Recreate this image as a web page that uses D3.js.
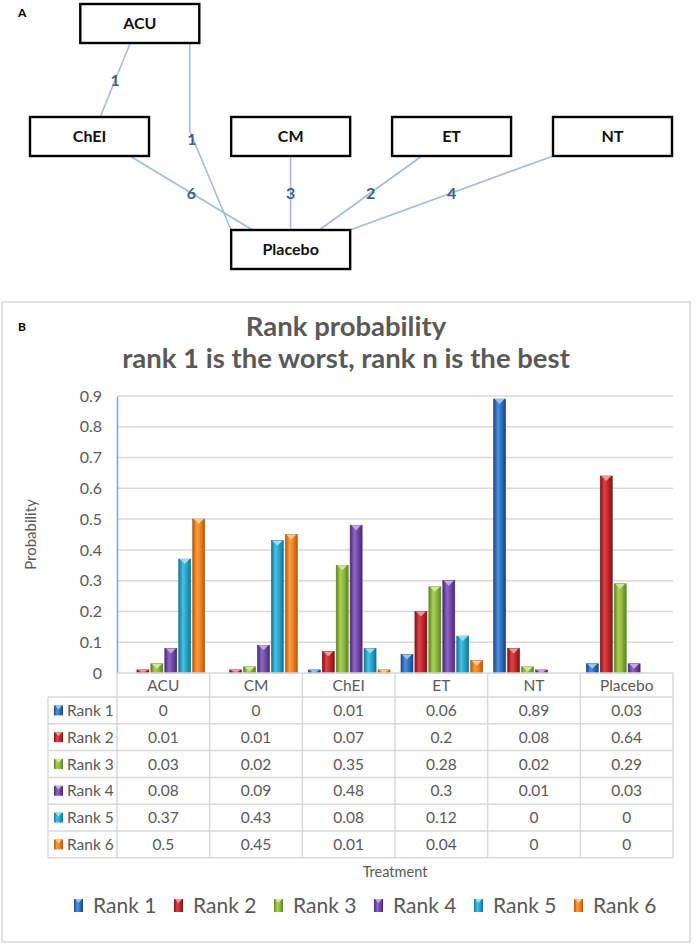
<!DOCTYPE html>
<html>
<head>
<meta charset="utf-8">
<script src="https://cdn.jsdelivr.net/npm/d3@7"></script>
<style>
  body { margin: 0; background: #fff; }
  text { font-family: Lato, "Open Sans", sans-serif; }
</style>
</head>
<body>
<svg id="fig" width="696" height="946"></svg>
<script>
// ---- data ----
const treatments = ["ACU", "CM", "ChEI", "ET", "NT", "Placebo"];
const rankNames = ["Rank 1", "Rank 2", "Rank 3", "Rank 4", "Rank 5", "Rank 6"];
const rank1 = [0, 0, 0.01, 0.06, 0.89, 0.03];
const rank2 = [0.01, 0.01, 0.07, 0.2, 0.08, 0.64];
const rank3 = [0.03, 0.02, 0.35, 0.28, 0.02, 0.29];
const rank4 = [0.08, 0.09, 0.48, 0.3, 0.01, 0.03];
const rank5 = [0.37, 0.43, 0.08, 0.12, 0, 0];
const rank6 = [0.5, 0.45, 0.01, 0.04, 0, 0];
const rankValues = [rank1, rank2, rank3, rank4, rank5, rank6];
const yTicks = [0, 0.1, 0.2, 0.3, 0.4, 0.5, 0.6, 0.7, 0.8, 0.9];

// network: nodes and comparisons (number of studies)
const nodes = ["ACU", "ChEI", "CM", "ET", "NT", "Placebo"];
const edges = [
  ["ACU", "ChEI", 1],
  ["ACU", "Placebo", 1],
  ["ChEI", "Placebo", 6],
  ["CM", "Placebo", 3],
  ["ET", "Placebo", 2],
  ["NT", "Placebo", 4]
];

// ---- styles / layout ----
const rankColors = [
  {base: "#2f6fbf", dark: "#1b4585", light: "#4d92de"},
  {base: "#c1282e", dark: "#801419", light: "#de4247"},
  {base: "#8db63c", dark: "#5c8620", light: "#abcf58"},
  {base: "#7348a8", dark: "#4a2877", light: "#9066c4"},
  {base: "#25a3c9", dark: "#117696", light: "#4cc0e2"},
  {base: "#f0801e", dark: "#b5570c", light: "#fb9d40"}
];
const gray = "#595959", grid = "#d9d9d9";

const svg = d3.select("#fig");
const defs = svg.append("defs");

rankColors.forEach(function(c, i) {
  let g = defs.append("linearGradient").attr("id", "grad" + i)
    .attr("x1", "0%").attr("x2", "100%").attr("y1", "0%").attr("y2", "0%");
  g.append("stop").attr("offset", "0%").attr("stop-color", c.dark);
  g.append("stop").attr("offset", "35%").attr("stop-color", c.light);
  g.append("stop").attr("offset", "65%").attr("stop-color", c.base);
  g.append("stop").attr("offset", "100%").attr("stop-color", c.dark);
});

// ================= Panel A: network =================
const boxW = 119, boxH = 39;
const nodeCol = {ACU: 0.25, ChEI: 0, CM: 1, ET: 1.8, NT: 2.6, Placebo: 1};
const nodeRow = {ACU: 0, ChEI: 1, CM: 1, ET: 1, NT: 1, Placebo: 2};
const colX = d3.scaleLinear().domain([0, 2.6]).range([30, 553]);
const rowY = d3.scaleLinear().domain([0, 2]).range([4, 230]);
// where each edge leaves the source (bottom) and enters the target (top), as box fractions
const anchors = {
  "ACU-ChEI": [0.42, 0.59],
  "ACU-Placebo": [0.92, 0],
  "ChEI-Placebo": [0.84, 0.18],
  "CM-Placebo": [0.5, 0.5],
  "ET-Placebo": [0.25, 0.74],
  "NT-Placebo": [0, 1]
};

const panelA = svg.append("g");
panelA.append("text").attr("x", 18).attr("y", 17)
  .style("font-size", "12px").style("font-weight", "bold").text("A");

const edgeG = panelA.selectAll(".edge").data(edges).enter().append("g").attr("class", "edge");
edgeG.each(function(e) {
  const a = anchors[e[0] + "-" + e[1]];
  const sx = colX(nodeCol[e[0]]) + a[0] * boxW, sy = rowY(nodeRow[e[0]]) + boxH;
  const tx = colX(nodeCol[e[1]]) + a[1] * boxW, ty = rowY(nodeRow[e[1]]);
  let pts, lx, ly;
  if (nodeRow[e[1]] - nodeRow[e[0]] > 1) {
    // long link is drawn as an elbow that passes between the middle-row boxes
    const by = rowY(1) + 14;
    pts = [[sx, sy], [sx, by], [tx, ty]];
    lx = sx + 2; ly = by + 8;
  } else {
    pts = [[sx, sy], [tx, ty]];
    lx = (sx + tx) / 2; ly = (sy + ty) / 2;
  }
  const g = d3.select(this);
  g.append("path").attr("d", d3.line()(pts))
    .attr("fill", "none").attr("stroke", "#a3bbdd").attr("stroke-width", 1.6);
  g.append("text").attr("x", lx).attr("y", ly).attr("dy", "0.36em")
    .attr("text-anchor", "middle")
    .style("font-size", "16px").style("font-weight", "bold").style("fill", "#3f5f86")
    .text(e[2]);
});

const nodeG = panelA.selectAll(".node").data(nodes).enter().append("g").attr("class", "node")
  .attr("transform", d => "translate(" + colX(nodeCol[d]) + "," + rowY(nodeRow[d]) + ")");
nodeG.append("rect").attr("width", boxW).attr("height", boxH)
  .attr("fill", "#fff").attr("stroke", "#000").attr("stroke-width", 2.4);
nodeG.append("text").attr("x", boxW / 2).attr("y", boxH / 2).attr("dy", "0.36em")
  .attr("text-anchor", "middle")
  .style("font-size", "16px").style("font-weight", "bold").style("fill", "#111")
  .text(d => d);

// ================= Panel B: rank probability =================
const panelB = svg.append("g");
panelB.append("rect").attr("x", 2).attr("y", 302).attr("width", 688).attr("height", 640)
  .attr("fill", "#fff").attr("stroke", grid).attr("stroke-width", 1.5);
panelB.append("text").attr("x", 18).attr("y", 331)
  .style("font-size", "12px").style("font-weight", "bold").text("B");

const title = panelB.append("text").attr("text-anchor", "middle")
  .style("font-size", "27.5px").style("font-weight", "bold").style("fill", gray);
title.append("tspan").attr("x", 346).attr("y", 336).text("Rank probability");
title.append("tspan").attr("x", 346).attr("y", 368).text("rank 1 is the worst, rank n is the best");

const plotLeft = 117, plotRight = 673, plotTop = 396, plotBottom = 673;
const x = d3.scaleBand().domain(treatments).range([plotLeft, plotRight]);
const xi = d3.scaleBand().domain(d3.range(rankNames.length))
  .range([6, x.bandwidth() - 5]).paddingInner(0.14);
const y = d3.scaleLinear().domain([0, 0.9]).range([plotBottom, plotTop]);

// gridlines
panelB.append("g").selectAll("line").data(yTicks.slice(1)).enter().append("line")
  .attr("x1", plotLeft).attr("x2", plotRight)
  .attr("y1", d => y(d)).attr("y2", d => y(d))
  .attr("stroke", grid).attr("stroke-width", 1.5);

// y axis
const yAxis = panelB.append("g")
  .attr("transform", "translate(" + plotLeft + ",0)")
  .call(d3.axisLeft(y).tickValues(yTicks).tickSize(0).tickPadding(15).tickFormat(d3.format("~g")));
yAxis.select(".domain").attr("stroke", "#7fa9dc").attr("stroke-width", 1.6);
yAxis.selectAll("text").style("font-size", "16px").style("fill", gray)
  .style("font-family", "Lato, sans-serif");

panelB.append("text")
  .attr("transform", "translate(36," + ((plotTop + plotBottom) / 2) + ") rotate(-90)")
  .attr("text-anchor", "middle")
  .style("font-size", "15px").style("fill", gray).text("Probability");

// bars
const barSeries = panelB.append("g").selectAll(".series").data(rankValues).enter()
  .append("g").attr("class", "series");
const bar = barSeries.selectAll(".bar")
  .data((vals, r) => vals.map((v, t) => ({r: r, t: t, v: v})).filter(d => d.v > 0))
  .enter().append("g").attr("class", "bar");
bar.append("rect")
  .attr("x", d => x(treatments[d.t]) + xi(d.r))
  .attr("y", d => y(d.v))
  .attr("width", xi.bandwidth())
  .attr("height", d => plotBottom - y(d.v))
  .attr("fill", d => "url(#grad" + d.r + ")")
  .attr("stroke", d => rankColors[d.r].dark).attr("stroke-width", 0.6);
bar.append("path")
  .attr("d", function(d) {
    const x0 = x(treatments[d.t]) + xi(d.r), w = xi.bandwidth(), y0 = y(d.v);
    const h = Math.min(5, plotBottom - y0);
    return "M" + (x0 + 1) + "," + y0 + "L" + (x0 + w - 1) + "," + y0 +
      "L" + (x0 + w / 2) + "," + (y0 + h) + "Z";
  })
  .attr("fill", d => d3.interpolateRgb(rankColors[d.r].light, "#fff")(0.45));

// data table under the axis
const headH = 24, rowH = 26.8, tableLeft = 48;
const tableTop = plotBottom + headH;
const rowTop = i => tableTop + i * rowH;
const table = panelB.append("g");

// grid of the table
table.selectAll(".vline").data(d3.range(treatments.length + 1)).enter().append("line")
  .attr("x1", i => plotLeft + i * x.step()).attr("x2", i => plotLeft + i * x.step())
  .attr("y1", plotBottom).attr("y2", rowTop(rankNames.length))
  .attr("stroke", grid).attr("stroke-width", 1.5);
table.append("line")
  .attr("x1", tableLeft).attr("x2", tableLeft)
  .attr("y1", tableTop).attr("y2", rowTop(rankNames.length))
  .attr("stroke", grid).attr("stroke-width", 1.5);
table.append("line")
  .attr("x1", plotLeft).attr("x2", plotRight).attr("y1", plotBottom).attr("y2", plotBottom)
  .attr("stroke", grid).attr("stroke-width", 1.5);
table.selectAll(".hline").data(d3.range(rankNames.length + 1)).enter().append("line")
  .attr("x1", tableLeft).attr("x2", plotRight)
  .attr("y1", i => rowTop(i)).attr("y2", i => rowTop(i))
  .attr("stroke", grid).attr("stroke-width", 1.5);

// category headers
table.selectAll(".head").data(treatments).enter().append("text")
  .attr("x", d => x(d) + x.bandwidth() / 2).attr("y", plotBottom + headH / 2).attr("dy", "0.36em")
  .attr("text-anchor", "middle")
  .style("font-size", "15.5px").style("fill", gray).text(d => d);

// row labels with key
const rowG = table.selectAll(".row").data(rankNames).enter().append("g").attr("class", "row")
  .attr("transform", (d, i) => "translate(0," + (rowTop(i) + rowH / 2) + ")");
rowG.append("rect").attr("x", 54).attr("y", -5).attr("width", 9).attr("height", 10)
  .attr("fill", (d, i) => "url(#grad" + i + ")");
rowG.append("path").attr("d", "M55,-5L62,-5L58.5,-1Z")
  .attr("fill", (d, i) => d3.interpolateRgb(rankColors[i].light, "#fff")(0.45));
rowG.append("text").attr("x", 67).attr("dy", "0.36em")
  .style("font-size", "15.5px").style("fill", gray).text(d => d);

// values
rowG.each(function(name, r) {
  d3.select(this).selectAll(".val").data(rankValues[r]).enter().append("text")
    .attr("x", (v, t) => x(treatments[t]) + x.bandwidth() / 2).attr("dy", "0.36em")
    .attr("text-anchor", "middle")
    .style("font-size", "15.5px").style("fill", gray).text(v => v);
});

panelB.append("text").attr("x", (plotLeft + plotRight) / 2).attr("y", 877)
  .attr("text-anchor", "middle")
  .style("font-size", "14.5px").style("fill", gray).text("Treatment");

// legend
const legend = panelB.selectAll(".legend").data(rankNames).enter().append("g")
  .attr("class", "legend")
  .attr("transform", (d, i) => "translate(" + (74 + i * 100) + ",905)");
legend.append("rect").attr("x", 0).attr("y", -6).attr("width", 9).attr("height", 13)
  .attr("fill", (d, i) => "url(#grad" + i + ")");
legend.append("path").attr("d", "M1,-6L8,-6L4.5,-2Z")
  .attr("fill", (d, i) => d3.interpolateRgb(rankColors[i].light, "#fff")(0.45));
legend.append("text").attr("x", 19).attr("dy", "0.36em")
  .style("font-size", "21px").style("fill", gray).text(d => d);
</script>
</body>
</html>
